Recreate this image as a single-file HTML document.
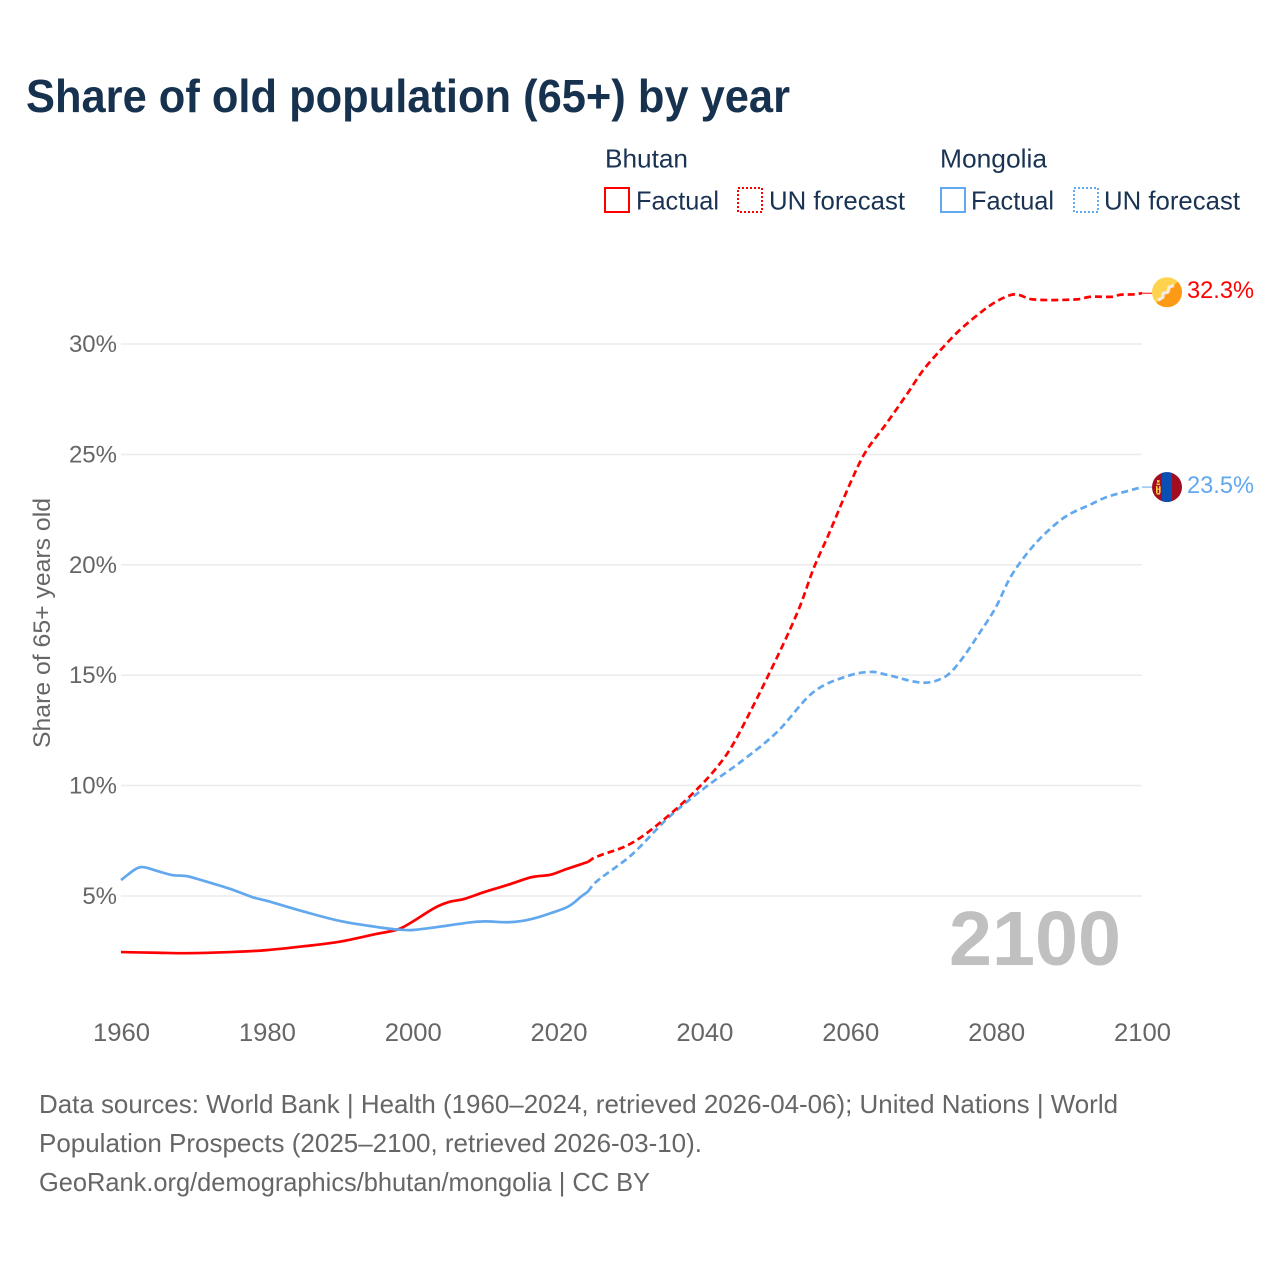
<!DOCTYPE html>
<html lang="en">
<head>
<meta charset="utf-8">
<title>Share of old population (65+) by year</title>
<style>
html,body{margin:0;padding:0;background:#fff;}
svg{display:block;font-family:"Liberation Sans",sans-serif;}
</style>
</head>
<body>
<svg id="chart" xmlns="http://www.w3.org/2000/svg" width="1280" height="1280" viewBox="0 0 1280 1280">
  <rect width="1280" height="1280" fill="#fff"/>
  <text x="26" y="112" font-size="46" font-weight="700" fill="#17324f" textLength="764" lengthAdjust="spacingAndGlyphs">Share of old population (65+) by year</text>

  <g font-size="26" fill="#1a3353">
    <text x="605" y="167.5" textLength="83" lengthAdjust="spacingAndGlyphs">Bhutan</text>
    <text x="940" y="167.5" textLength="107" lengthAdjust="spacingAndGlyphs">Mongolia</text>
    <rect x="605" y="188" width="24" height="24" fill="none" stroke="#ff0000" stroke-width="2"/>
    <text x="636" y="209.5" textLength="83" lengthAdjust="spacingAndGlyphs">Factual</text>
    <rect x="738" y="188" width="24" height="24" fill="none" stroke="#ff0000" stroke-width="2" stroke-dasharray="2 2"/>
    <text x="769" y="209.5" textLength="136" lengthAdjust="spacingAndGlyphs">UN forecast</text>
    <rect x="941" y="188" width="24" height="24" fill="none" stroke="#62a8ee" stroke-width="2"/>
    <text x="971" y="209.5" textLength="83" lengthAdjust="spacingAndGlyphs">Factual</text>
    <rect x="1074" y="188" width="24" height="24" fill="none" stroke="#62a8ee" stroke-width="2" stroke-dasharray="2 2"/>
    <text x="1104" y="209.5" textLength="136" lengthAdjust="spacingAndGlyphs">UN forecast</text>
  </g>

  <g id="grid"></g>
  <g id="yticks"></g>
  <g id="xticks"></g>

  <text transform="translate(50,748) rotate(-90)" x="0" y="0" font-size="24" fill="#666" textLength="250" lengthAdjust="spacingAndGlyphs">Share of 65+ years old</text>

  <text x="949" y="965" font-size="77" font-weight="700" fill="#c0c0c0" textLength="172" lengthAdjust="spacingAndGlyphs">2100</text>

  <g id="series"></g>

  <defs>
    <clipPath id="flag-clip"><circle cx="0" cy="0" r="15"/></clipPath>
  </defs>

  <g id="flag-bhutan">
    <g clip-path="url(#flag-clip)">
      <rect x="-15" y="-15" width="30" height="30" fill="#ffd34d"/>
      <path d="M15 -15 L15 15 L-15 15 Z" fill="#ff9a17"/>
      <path d="M-9 8 L-4 5 L-4 1 L1 0 L2 -5 L7 -7" fill="none" stroke="#f2ece2" stroke-width="3.2" stroke-linejoin="bevel"/>
    </g>
  </g>
  <g id="flag-mongolia">
    <g clip-path="url(#flag-clip)">
      <rect x="-15" y="-15" width="30" height="30" fill="#a30d22"/>
      <rect x="-5" y="-15" width="10" height="30" fill="#0a50b4"/>
      <rect x="-11" y="-1" width="1.6" height="7" fill="#f7d23c"/>
      <rect x="-8" y="-1" width="1.6" height="7" fill="#f7d23c"/>
      <rect x="-10" y="-7" width="2.5" height="2.5" fill="#f7d23c"/>
      <rect x="-10.5" y="-3.5" width="3.5" height="1.5" fill="#f7d23c"/>
      <rect x="-10.5" y="1.5" width="3.5" height="1.2" fill="#f7d23c"/>
      <rect x="-10.5" y="6" width="3.5" height="1.5" fill="#f7d23c"/>
    </g>
  </g>
  <g id="endlabels"></g>

  <g font-size="26" fill="#666">
    <text x="39" y="1113" textLength="1079" lengthAdjust="spacingAndGlyphs">Data sources: World Bank | Health (1960–2024, retrieved 2026-04-06); United Nations | World</text>
    <text x="39" y="1152" textLength="663" lengthAdjust="spacingAndGlyphs">Population Prospects (2025–2100, retrieved 2026-03-10).</text>
    <text x="39" y="1191" textLength="611" lengthAdjust="spacingAndGlyphs">GeoRank.org/demographics/bhutan/mongolia | CC BY</text>
  </g>
</svg>

<script>
const xTickLabels = [1960, 1980, 2000, 2020, 2040, 2060, 2080, 2100];
const yTickLabels = [5, 10, 15, 20, 25, 30];

const bhutanFactualYears = [1960,1965,1969,1975,1980,1985,1990,1995,1998,2000,2003,2005,2007,2010,2013,2016,2017,2019,2021,2024];
const bhutanFactualValues = [2.46,2.43,2.41,2.46,2.55,2.72,2.93,3.28,3.49,3.84,4.46,4.73,4.86,5.2,5.5,5.83,5.89,5.97,6.21,6.54];

const bhutanForecastYears = [2024,2025,2030,2035,2040,2043,2045,2050,2053,2055,2057,2060,2062,2065,2068,2070,2073,2075,2078,2080,2082,2083,2085,2091,2093,2096,2097,2099,2100];
const bhutanForecastValues = [6.54,6.75,7.39,8.62,10.18,11.39,12.52,15.84,18.04,19.86,21.35,23.7,25.06,26.42,27.84,28.82,29.95,30.63,31.46,31.92,32.22,32.23,32.02,32.02,32.14,32.14,32.23,32.25,32.3];

const mongoliaFactualYears = [1960,1962,1963,1965,1967,1969,1971,1975,1978,1980,1985,1990,1995,1998,2000,2005,2008,2010,2013,2015,2017,2019,2021,2022,2023,2024];
const mongoliaFactualValues = [5.72,6.22,6.31,6.13,5.95,5.9,5.72,5.32,4.95,4.78,4.3,3.87,3.6,3.48,3.46,3.67,3.81,3.85,3.81,3.87,4.02,4.23,4.47,4.67,4.95,5.19];

const mongoliaForecastYears = [2024,2025,2030,2035,2040,2045,2050,2055,2060,2063,2065,2070,2073,2075,2078,2080,2082,2085,2088,2090,2093,2095,2098,2100];
const mongoliaForecastValues = [5.19,5.6,6.86,8.53,9.89,11.08,12.44,14.25,15.0,15.15,15.02,14.66,14.93,15.6,17.05,18.1,19.46,20.82,21.8,22.28,22.74,23.05,23.34,23.52];

const RED = '#ff0000';
const BLUE = '#62a8ee';
const SVGNS = 'http://www.w3.org/2000/svg';

function xScale(year) { return 121 + (year - 1960) * (1142 - 121) / 140; }
function yScale(v) { return 896 - (v - 5) * 22.08; }

function make(tag, attrs, text) {
  const el = document.createElementNS(SVGNS, tag);
  Object.keys(attrs).forEach(function (k) { el.setAttribute(k, attrs[k]); });
  if (text !== undefined) el.textContent = text;
  return el;
}

function linePath(years, values) {
  const pts = years.map(function (yr, i) { return [xScale(yr), yScale(values[i])]; });
  let d = 'M' + pts[0][0].toFixed(2) + ' ' + pts[0][1].toFixed(2);
  for (let i = 0; i < pts.length - 1; i++) {
    const p0 = pts[Math.max(i - 1, 0)];
    const p1 = pts[i];
    const p2 = pts[i + 1];
    const p3 = pts[Math.min(i + 2, pts.length - 1)];
    const seg = p2[0] - p1[0];
    const m1 = (p2[1] - p0[1]) / (p2[0] - p0[0]);
    const m2 = (p3[1] - p1[1]) / (p3[0] - p1[0]);
    d += ' C' + (p1[0] + seg / 3).toFixed(2) + ' ' + (p1[1] + m1 * seg / 3).toFixed(2) +
         ' ' + (p2[0] - seg / 3).toFixed(2) + ' ' + (p2[1] - m2 * seg / 3).toFixed(2) +
         ' ' + p2[0].toFixed(2) + ' ' + p2[1].toFixed(2);
  }
  return d;
}

const gridGroup = document.getElementById('grid');
const yTickGroup = document.getElementById('yticks');
yTickLabels.forEach(function (v) {
  const line = make('line', {x1: xScale(1960), x2: xScale(2100), y1: yScale(v), y2: yScale(v), stroke: '#ececec', 'stroke-width': 1.6});
  
  
  gridGroup.appendChild(line);
  const label = make('text', {x: 117, y: yScale(v) + 8, 'text-anchor': 'end', 'font-size': 24, fill: '#666'}, v + '%');
  
  
  yTickGroup.appendChild(label);
});

const xTickGroup = document.getElementById('xticks');
xTickLabels.forEach(function (yr) {
  const label = make('text', {x: xScale(yr) + 0.5, y: 1041, 'text-anchor': 'middle', 'font-size': 25, fill: '#666', textLength: 57, lengthAdjust: 'spacingAndGlyphs'}, String(yr));
  
  
  xTickGroup.appendChild(label);
});

const seriesGroup = document.getElementById('series');

const bhutanFactual = make('path', {d: linePath(bhutanFactualYears, bhutanFactualValues), fill: 'none', stroke: RED, 'stroke-width': 2.7, 'stroke-linejoin': 'round'});



const mongoliaFactual = make('path', {d: linePath(mongoliaFactualYears, mongoliaFactualValues), fill: 'none', stroke: BLUE, 'stroke-width': 2.7, 'stroke-linejoin': 'round'});



const bhutanForecast = make('path', {d: linePath(bhutanForecastYears, bhutanForecastValues), fill: 'none', stroke: RED, 'stroke-width': 2.7, 'stroke-dasharray': '7 4', 'stroke-linejoin': 'round'});



const mongoliaForecast = make('path', {d: linePath(mongoliaForecastYears, mongoliaForecastValues), fill: 'none', stroke: BLUE, 'stroke-width': 2.7, 'stroke-dasharray': '7 4', 'stroke-linejoin': 'round'});



seriesGroup.appendChild(bhutanFactual);
seriesGroup.appendChild(mongoliaFactual);
seriesGroup.appendChild(mongoliaForecast);
seriesGroup.appendChild(bhutanForecast);

const bhutanLast = bhutanForecastValues[bhutanForecastValues.length - 1];
const mongoliaLast = mongoliaForecastValues[mongoliaForecastValues.length - 1];
const endX = xScale(2100);
const endGroup = document.getElementById('endlabels');

const bhutanConnector = make('line', {x1: endX, x2: 1152, y1: yScale(bhutanLast), y2: yScale(bhutanLast), stroke: RED, 'stroke-width': 1});


endGroup.appendChild(bhutanConnector);

const mongoliaConnector = make('line', {x1: endX, x2: 1152, y1: yScale(mongoliaLast), y2: yScale(mongoliaLast), stroke: BLUE, 'stroke-width': 1});


endGroup.appendChild(mongoliaConnector);

const bhutanLabel = make('text', {x: 1187, y: yScale(bhutanLast) + 5, 'font-size': 24.5, fill: RED, textLength: 67, lengthAdjust: 'spacingAndGlyphs'}, bhutanLast.toFixed(1) + '%');


endGroup.appendChild(bhutanLabel);

const mongoliaLabel = make('text', {x: 1187, y: yScale(mongoliaLast) + 6, 'font-size': 24.5, fill: BLUE, textLength: 67, lengthAdjust: 'spacingAndGlyphs'}, mongoliaLast.toFixed(1) + '%');


endGroup.appendChild(mongoliaLabel);

document.getElementById('flag-bhutan').setAttribute('transform', 'translate(1167,' + (yScale(bhutanLast) - 1) + ')');
document.getElementById('flag-mongolia').setAttribute('transform', 'translate(1167,' + yScale(mongoliaLast) + ')');
</script>
</body>
</html>
